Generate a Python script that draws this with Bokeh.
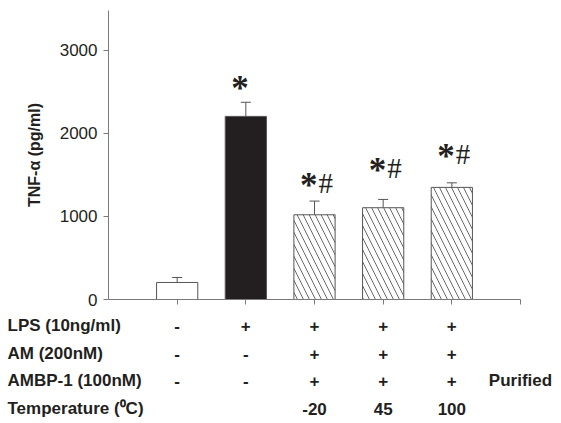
from bokeh.plotting import figure
from bokeh.models import Range1d, FixedTicker, Whisker, TeeHead, ColumnDataSource, LabelSet
from bokeh.core.properties import value
from bokeh.embed import file_html
from bokeh.resources import INLINE

# ---- data ----
groups = [1, 2, 3, 4, 5]
tnf = [205, 2205, 1020, 1105, 1350]
sem = [60, 170, 165, 100, 55]
fills = ["white", "#231f20", "white", "white", "white"]
hatches = [" ", " ", "\\", "\\", "\\"]

sig_groups = [2, 3, 4, 5]
sig_star = ["*", "*", "*", "*"]
sig_hash = ["", "#", "#", "#"]
sig_y = [2602, 1432, 1613, 1782]

row_labels = ["LPS (10ng/ml)", "AM (200nM)", "AMBP-1 (100nM)", "Temperature (\u2070C)"]
lps = ["-", "+", "+", "+", "+"]
am = ["-", "-", "+", "+", "+"]
ambp = ["-", "-", "+", "+", "+"]
temps = ["", "", "-20", "45", "100"]
extra_col = 6
extra_text = "Purified"
y_ticks = [0, 1000, 2000, 3000]
x_ticks = [1, 2, 3, 4, 5, 6]

FONT = "Liberation Sans"
INK = "#231f20"
AX = "#7a7a7a"

# ---- layout geometry (pixels) ----
W, H = 561, 423
AXL, AXR = 108, 520          # where x = 0 and x = 6 fall
AXT, AXB = 10, 299           # where y = top and y = 0 fall
X0, X1 = 0, 6
Y0, Y1 = 0, 3480
ppx = (AXR - AXL) / (X1 - X0)
ppy = (AXB - AXT) / (Y1 - Y0)

p = figure(output_backend="svg", toolbar_location=None,
           frame_width=W, frame_height=H, min_border=0,
           x_range=Range1d(X0 - AXL / ppx, X0 + (W - AXL) / ppx),
           y_range=Range1d(Y0 - (H - AXB) / ppy, Y1 + AXT / ppy))
p.outline_line_color = None
p.xgrid.visible = False
p.ygrid.visible = False

src = ColumnDataSource(dict(x=groups, top=tnf, upper=[t + s for t, s in zip(tnf, sem)],
                            fill=fills, hatch=hatches))
p.vbar(x="x", top="top", bottom=0, width=0.6, source=src, fill_color="fill",
       line_color="#555555", line_width=1, hatch_pattern="hatch", hatch_color="#444444",
       hatch_scale=12, hatch_weight=0.8)

w = Whisker(base="x", lower="top", upper="upper", source=src, line_color="#555555", line_width=1,
            upper_head=TeeHead(size=10, line_color="#555555", line_width=1), lower_head=None)
p.add_layout(w)


def nonempty(xs, ys, ts):
    keep = [i for i, s in enumerate(ts) if s]
    return [xs[i] for i in keep], [ys[i] for i in keep], [ts[i] for i in keep]


# significance marks
sx, sy, st = nonempty(sig_groups, sig_y, sig_star)
hx, hy, ht = nonempty(sig_groups, sig_y, sig_hash)
p.add_layout(LabelSet(x="x", y="y", text="t", source=ColumnDataSource(dict(x=sx, y=sy, t=st)),
                      text_align="right", text_baseline="middle", x_offset=3, y_offset=-5,
                      text_font=FONT, text_font_style="bold", text_font_size="35px", text_color=INK))
p.add_layout(LabelSet(x="x", y="y", text="t", source=ColumnDataSource(dict(x=hx, y=hy, t=ht)),
                      text_align="left", text_baseline="middle", x_offset=4, y_offset=-2,
                      text_font=FONT, text_font_size="29px", text_color=INK))

# axes, pinned at the data origin
yax = p.yaxis[0]
yax.fixed_location = X0
yax.bounds = (Y0, Y1)
yax.ticker = FixedTicker(ticks=y_ticks)
yax.axis_label = "TNF-\u03b1 (pg/ml)"
yax.axis_label_text_font = FONT
yax.axis_label_text_font_style = "bold"
yax.axis_label_text_font_size = "16px"
yax.axis_label_text_color = INK
yax.axis_label_standoff = 14
yax.major_label_text_font = FONT
yax.major_label_text_font_size = "17px"
yax.major_label_text_color = INK
yax.major_label_standoff = 6
yax.minor_tick_line_color = None
yax.major_tick_in = 0
yax.major_tick_out = 5
yax.axis_line_color = AX
yax.major_tick_line_color = AX

xax = p.xaxis[0]
xax.fixed_location = Y0
xax.bounds = (X0, X1)
xax.ticker = FixedTicker(ticks=x_ticks)
xax.major_label_overrides = {t: "" for t in x_ticks}
xax.major_label_text_color = None
xax.major_label_standoff = 0
xax.minor_tick_line_color = None
xax.major_tick_in = 0
xax.major_tick_out = 5
xax.axis_line_color = AX
xax.major_tick_line_color = AX

# ---- treatment table below the axis ----
row_px = [26, 54, 81, 109]          # px below the x axis
row_y = [Y0 - d / ppy for d in row_px]
label_x = X0 - (AXL - 7) / ppx
txt = dict(text_baseline="middle", text_font=value(FONT), text_font_style="bold",
           text_font_size="17px", text_color=INK)
p.text(x=[label_x] * len(row_labels), y=row_y, text=row_labels, text_align="left", **txt)
for ry, vals in zip(row_y, [lps, am, ambp, temps]):
    cx, cy, ct = nonempty(groups, [ry] * len(groups), vals)
    p.text(x=cx, y=cy, text=ct, text_align="center", **txt)
p.text(x=[extra_col], y=[row_y[2]], text=[extra_text], text_align="center", **txt)

open("out.html", "w").write(file_html(p, INLINE))
